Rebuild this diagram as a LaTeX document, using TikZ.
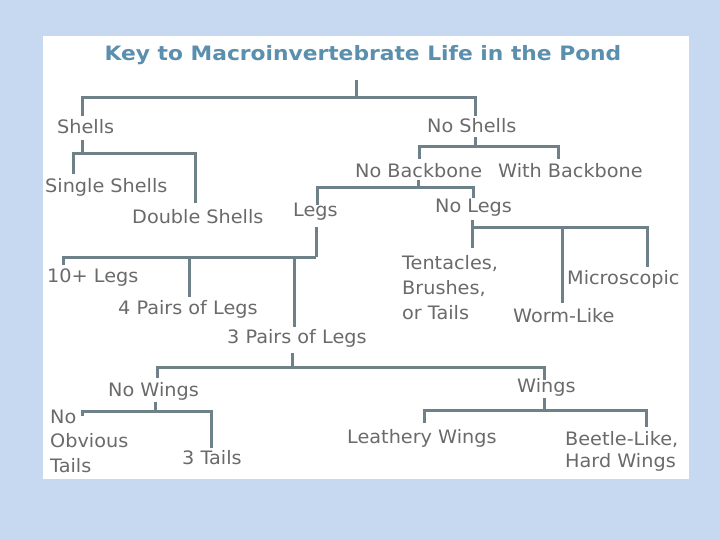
\documentclass[tikz,border=0pt]{standalone}
\usepackage{fontspec}
\setmainfont[FakeStretch=1.04]{DejaVu Sans}
\newfontfamily\titlefont[FakeStretch=1.1]{DejaVu Sans}
\definecolor{bgblue}{HTML}{C6D9F0}
\definecolor{lncol}{HTML}{6E8088}
\definecolor{txtcol}{HTML}{6A6A6A}
\definecolor{titlecol}{HTML}{5A8FAE}
\begin{document}
\begin{tikzpicture}[x=1pt,y=-1pt,
  ln/.style={draw=lncol,line width=3pt},
  lbl/.style={anchor=west,inner sep=0pt,text=txtcol,font=\fontsize{18.5}{25}\selectfont,align=left},
  ttl/.style={inner sep=0pt,text=titlecol,font=\titlefont\fontsize{19.8}{22}\selectfont\bfseries}]
\useasboundingbox (0,0) rectangle (720,540);
\fill[bgblue] (0,0) rectangle (720,540);
\fill[white] (43,36) rectangle (689,479);
\node[ttl] (title) at (363,55) {Key to Macroinvertebrate Life in the Pond};
% labels
\node[lbl] (shells) at (57,127) {Shells};
\node[lbl] (noshells) at (427,126) {No Shells};
\node[lbl] (single) at (45,187) {Single Shells};
\node[lbl] (double) at (132,217) {Double Shells};
\node[lbl] (nobb) at (355,171) {No Backbone};
\node[lbl] (withbb) at (498,171) {With Backbone};
\node[lbl] (legs) at (293,212) {Legs};
\node[lbl] (nolegs) at (435,208) {No Legs};
\node[lbl] (tent) at (402,288) {Tentacles,\\Brushes,\\or Tails};
\node[lbl] (micro) at (567,279) {Microscopic};
\node[lbl] (worm) at (513,316) {Worm-Like};
\node[lbl] (ten) at (47,278) {10+ Legs};
\node[lbl] (four) at (118,309) {4 Pairs of Legs};
\node[lbl] (three) at (227,338) {3 Pairs of Legs};
\node[lbl] (nowings) at (108,391) {No Wings};
\node[lbl] (wings) at (517,387) {Wings};
\node[lbl,font=\fontsize{18.5}{24.5}\selectfont] (notails) at (50,441) {No\\Obvious\\Tails};
\node[lbl] (threetails) at (182,458) {3 Tails};
\node[lbl] (leathery) at (347,438) {Leathery Wings};
\node[lbl,font=\fontsize{18.5}{22}\selectfont] (beetle) at (565,451) {Beetle-Like,\\Hard Wings};
% junction coordinates
\coordinate (r0) at (356,80);
\coordinate (r1) at (356,98);
\coordinate (a1) at (82,116);
\coordinate (a2) at (82,98);
\coordinate (a3) at (475,98);
\coordinate (a4) at (475,116);
\coordinate (s0) at (82,140);
\coordinate (s1) at (82,154);
\coordinate (s2) at (73,174);
\coordinate (s3) at (73,154);
\coordinate (s4) at (195,154);
\coordinate (s5) at (195,203);
\coordinate (n0) at (475,137);
\coordinate (n1) at (475,147);
\coordinate (n2) at (419,159);
\coordinate (n3) at (419,147);
\coordinate (n4) at (558,147);
\coordinate (n5) at (558,159);
\coordinate (b0) at (418,180);
\coordinate (b1) at (418,188);
\coordinate (b2) at (317,205);
\coordinate (b3) at (317,188);
\coordinate (b4) at (473,188);
\coordinate (b5) at (473,198);
\coordinate (l0) at (316,227);
\coordinate (l1) at (316,257);
\coordinate (l2) at (63,257);
\coordinate (l3) at (63,265);
\coordinate (l4) at (189,257);
\coordinate (l5) at (189,297);
\coordinate (l6) at (294,257);
\coordinate (l7) at (294,327);
\coordinate (g0) at (472,220);
\coordinate (g1) at (472,248);
\coordinate (g2) at (472,228);
\coordinate (g3) at (647,228);
\coordinate (g4) at (647,267);
\coordinate (g5) at (562,228);
\coordinate (g6) at (562,303);
\coordinate (p0) at (292,353);
\coordinate (p1) at (292,367);
\coordinate (p2) at (157,378);
\coordinate (p3) at (157,367);
\coordinate (p4) at (544,367);
\coordinate (p5) at (544,380);
\coordinate (w0) at (155,402);
\coordinate (w1) at (155,411);
\coordinate (w2) at (82,416);
\coordinate (w3) at (82,411);
\coordinate (w4) at (211,411);
\coordinate (w5) at (211,448);
\coordinate (v0) at (544,398);
\coordinate (v1) at (544,410);
\coordinate (v2) at (424,423);
\coordinate (v3) at (424,410);
\coordinate (v4) at (646,410);
\coordinate (v5) at (646,427);
% connectors
\draw[ln] (r0) -- (r1);
\draw[ln] (a1) -- (a2) -- (a3) -- (a4);
\draw[ln] (s0) -- (s1);
\draw[ln] (s2) -- (s3) -- (s4) -- (s5);
\draw[ln] (n0) -- (n1);
\draw[ln] (n2) -- (n3) -- (n4) -- (n5);
\draw[ln] (b0) -- (b1);
\draw[ln] (b2) -- (b3) -- (b4) -- (b5);
\draw[ln] (l0) -- (l1);
\draw[ln] (l3) -- (l2) -- (l1);
\draw[ln] (l4) -- (l5);
\draw[ln] (l6) -- (l7);
\draw[ln] (g0) -- (g1);
\draw[ln] (g2) -- (g3) -- (g4);
\draw[ln] (g5) -- (g6);
\draw[ln] (p0) -- (p1);
\draw[ln] (p2) -- (p3) -- (p4) -- (p5);
\draw[ln] (w0) -- (w1);
\draw[ln] (w2) -- (w3) -- (w4) -- (w5);
\draw[ln] (v0) -- (v1);
\draw[ln] (v2) -- (v3) -- (v4) -- (v5);
\end{tikzpicture}
\end{document}
